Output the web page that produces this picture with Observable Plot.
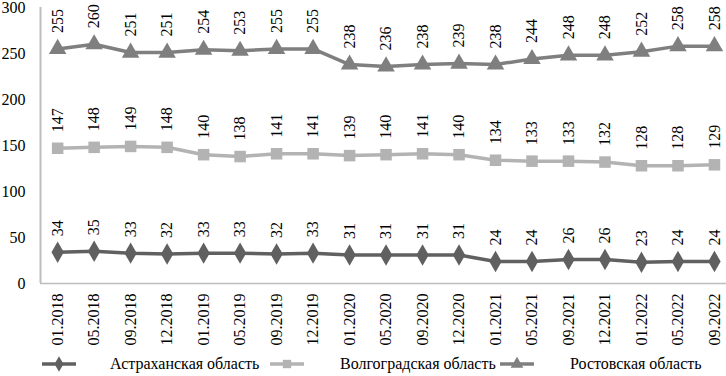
<!DOCTYPE html>
<html><head><meta charset="utf-8">
<script src="https://cdn.jsdelivr.net/npm/d3@7"></script>
<script src="https://cdn.jsdelivr.net/npm/@observablehq/plot@0.6"></script>
<style>
body{margin:0;background:#fff;font-family:"Liberation Serif",serif;}
#legend{height:24px;font-size:16px;color:#000;position:relative;}
.item{position:absolute;top:0;height:24px;display:flex;align-items:center;}
</style></head>
<body><div id="chart"></div><div id="legend"></div>
<script>
const categories = ["01.2018","05.2018","09.2018","12.2018","01.2019","05.2019","09.2019","12.2019","01.2020","05.2020","09.2020","12.2020","01.2021","05.2021","09.2021","12.2021","01.2022","05.2022","09.2022"];
const astrakhan = [34,35,33,32,33,33,32,33,31,31,31,31,24,24,26,26,23,24,24];
const volgograd = [147,148,149,148,140,138,141,141,139,140,141,140,134,133,133,132,128,128,129];
const rostov = [255,260,251,251,254,253,255,255,238,236,238,239,238,244,248,248,252,258,258];
const seriesNames = ["Астраханская область","Волгоградская область","Ростовская область"];
const yTicks = [0,50,100,150,200,250,300];

const colors = ["#606060","#b3b3b3","#7f7f7f"];
const symbols = ["diamond","square","triangle"];
const allSeries = [astrakhan, volgograd, rostov];
const data = [];
allSeries.forEach((vals, s) => vals.forEach((v, i) => data.push({i, v, s: seriesNames[s]})));
const n = categories.length;
const x0 = -0.47, x1 = n - 1 + 0.33;

const chart = Plot.plot({
  width: 726, height: 352,
  marginLeft: 40, marginRight: 0, marginTop: 7, marginBottom: 69,
  style: {fontFamily: "Liberation Serif, serif", fontSize: "16px", color: "#000", background: "#fff", overflow: "visible"},
  x: {type: "linear", domain: [x0, x1], axis: null, label: null},
  y: {domain: [0, 300], axis: null, label: null},
  color: {domain: seriesNames, range: colors},
  symbol: {domain: seriesNames, range: symbols},
  marks: [
    Plot.ruleX([x0], {stroke: "#bdbdbd", strokeWidth: 2}),
    Plot.ruleY([0], {stroke: "#bdbdbd", strokeWidth: 1.5}),
    Plot.axisY({ticks: yTicks, tickSize: 0, tickPadding: 15, fontSize: 16, fill: "#000", label: null}),
    Plot.axisX({ticks: d3.range(n), tickFormat: i => categories[i], tickRotate: -90, tickSize: 0, tickPadding: 10, fontSize: 16, fill: "#000", label: null}),
    Plot.line(data, {x: "i", y: "v", z: "s", stroke: "s", strokeWidth: 3.5}),
    Plot.dot(data, {x: "i", y: "v", symbol: "s", fill: "s", r: 6.5}),
    Plot.text(data, {x: "i", y: "v", text: d => String(d.v), rotate: -90, textAnchor: "start", dy: -16, fontSize: 16, fill: "#000"})
  ]
});
document.getElementById("chart").appendChild(chart);

const legend = document.getElementById("legend");
const legendPos = [[42, 110], [270, 340], [500, 570]];
seriesNames.forEach((name, k) => {
  const sym = d3.symbol(k === 0 ? d3.symbolDiamond : k === 1 ? d3.symbolSquare : d3.symbolTriangle, 70)();
  const el = document.createElement("div");
  el.className = "item";
  el.style.left = legendPos[k][0] + "px";
  el.innerHTML = `<svg width="${legendPos[k][1]-legendPos[k][0]}" height="24"><line x1="0" x2="34" y1="12" y2="12" stroke="${colors[k]}" stroke-width="3.5"/><path d="${sym}" transform="translate(17,12)" fill="${colors[k]}"/></svg><span>${name}</span>`;
  legend.appendChild(el);
});
</script>
</body></html>
